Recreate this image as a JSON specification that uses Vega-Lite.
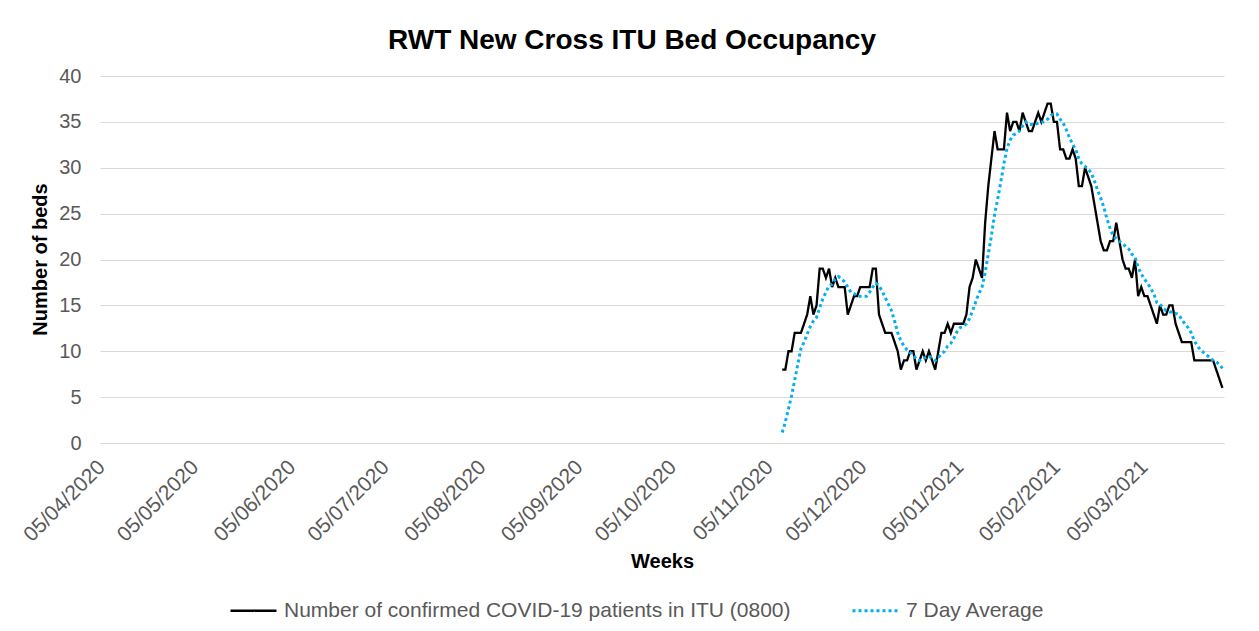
{
  "$schema": "https://vega.github.io/schema/vega-lite/v6.json",
  "autosize": {"type": "none"},
  "padding": {"left": 100, "top": 76, "right": 35, "bottom": 188},
  "width": 1124,
  "height": 367,
  "background": "white",
  "title": {"text": "RWT New Cross ITU Bed Occupancy", "fontSize": 28, "fontWeight": "bold", "font": "Liberation Sans", "color": "#000000", "anchor": "middle", "frame": "group", "dx": -30, "offset": 11},
  "data": {"values": [
    {"d":"2020-11-08","itu":8,"avg":1.14},{"d":"2020-11-09","itu":8,"avg":2.29},{"d":"2020-11-10","itu":10,"avg":3.71},{"d":"2020-11-11","itu":10,"avg":5.14},{"d":"2020-11-12","itu":12,"avg":6.86},{"d":"2020-11-13","itu":12,"avg":8.57},{"d":"2020-11-14","itu":12,"avg":10.29},{"d":"2020-11-15","itu":13,"avg":11.0},{"d":"2020-11-16","itu":14,"avg":11.86},{"d":"2020-11-17","itu":16,"avg":12.71},{"d":"2020-11-18","itu":14,"avg":13.29},{"d":"2020-11-19","itu":15,"avg":13.71},{"d":"2020-11-20","itu":19,"avg":14.71},{"d":"2020-11-21","itu":19,"avg":15.71},{"d":"2020-11-22","itu":18,"avg":16.43},{"d":"2020-11-23","itu":19,"avg":17.14},{"d":"2020-11-24","itu":17,"avg":17.29},{"d":"2020-11-25","itu":18,"avg":17.86},{"d":"2020-11-26","itu":17,"avg":18.14},{"d":"2020-11-27","itu":17,"avg":17.86},{"d":"2020-11-28","itu":17,"avg":17.57},{"d":"2020-11-29","itu":14,"avg":17.0},{"d":"2020-11-30","itu":15,"avg":16.43},
    {"d":"2020-12-01","itu":16,"avg":16.29},{"d":"2020-12-02","itu":16,"avg":16.0},{"d":"2020-12-03","itu":17,"avg":16.0},{"d":"2020-12-04","itu":17,"avg":16.0},{"d":"2020-12-05","itu":17,"avg":16.0},{"d":"2020-12-06","itu":17,"avg":16.43},{"d":"2020-12-07","itu":19,"avg":17.0},{"d":"2020-12-08","itu":19,"avg":17.43},{"d":"2020-12-09","itu":14,"avg":17.14},{"d":"2020-12-10","itu":13,"avg":16.57},{"d":"2020-12-11","itu":12,"avg":15.86},{"d":"2020-12-12","itu":12,"avg":15.14},{"d":"2020-12-13","itu":12,"avg":14.43},{"d":"2020-12-14","itu":11,"avg":13.29},{"d":"2020-12-15","itu":10,"avg":12.0},{"d":"2020-12-16","itu":8,"avg":11.14},{"d":"2020-12-17","itu":9,"avg":10.57},{"d":"2020-12-18","itu":9,"avg":10.14},{"d":"2020-12-19","itu":10,"avg":9.86},{"d":"2020-12-20","itu":10,"avg":9.57},{"d":"2020-12-21","itu":8,"avg":9.14},{"d":"2020-12-22","itu":9,"avg":9.0},{"d":"2020-12-23","itu":10,"avg":9.29},{"d":"2020-12-24","itu":9,"avg":9.29},{"d":"2020-12-25","itu":10,"avg":9.43},{"d":"2020-12-26","itu":9,"avg":9.29},{"d":"2020-12-27","itu":8,"avg":9.0},{"d":"2020-12-28","itu":10,"avg":9.29},{"d":"2020-12-29","itu":12,"avg":9.71},{"d":"2020-12-30","itu":12,"avg":10.0},{"d":"2020-12-31","itu":13,"avg":10.57},
    {"d":"2021-01-01","itu":12,"avg":10.86},{"d":"2021-01-02","itu":13,"avg":11.43},{"d":"2021-01-03","itu":13,"avg":12.14},{"d":"2021-01-04","itu":13,"avg":12.57},{"d":"2021-01-05","itu":13,"avg":12.71},{"d":"2021-01-06","itu":14,"avg":13.0},{"d":"2021-01-07","itu":17,"avg":13.57},{"d":"2021-01-08","itu":18,"avg":14.43},{"d":"2021-01-09","itu":20,"avg":15.43},{"d":"2021-01-10","itu":19,"avg":16.29},{"d":"2021-01-11","itu":18,"avg":17.0},{"d":"2021-01-12","itu":24,"avg":18.57},{"d":"2021-01-13","itu":28,"avg":20.57},{"d":"2021-01-14","itu":31,"avg":22.57},{"d":"2021-01-15","itu":34,"avg":24.86},{"d":"2021-01-16","itu":32,"avg":26.57},{"d":"2021-01-17","itu":32,"avg":28.43},{"d":"2021-01-18","itu":32,"avg":30.43},{"d":"2021-01-19","itu":36,"avg":32.14},{"d":"2021-01-20","itu":34,"avg":33.0},{"d":"2021-01-21","itu":35,"avg":33.57},{"d":"2021-01-22","itu":35,"avg":33.71},{"d":"2021-01-23","itu":34,"avg":34.0},{"d":"2021-01-24","itu":36,"avg":34.57},{"d":"2021-01-25","itu":35,"avg":35.0},{"d":"2021-01-26","itu":34,"avg":34.71},{"d":"2021-01-27","itu":34,"avg":34.71},{"d":"2021-01-28","itu":35,"avg":34.71},{"d":"2021-01-29","itu":36,"avg":34.86},{"d":"2021-01-30","itu":35,"avg":35.0},{"d":"2021-01-31","itu":36,"avg":35.0},
    {"d":"2021-02-01","itu":37,"avg":35.29},{"d":"2021-02-02","itu":37,"avg":35.71},{"d":"2021-02-03","itu":35,"avg":35.86},{"d":"2021-02-04","itu":35,"avg":35.86},{"d":"2021-02-05","itu":32,"avg":35.29},{"d":"2021-02-06","itu":32,"avg":34.86},{"d":"2021-02-07","itu":31,"avg":34.14},{"d":"2021-02-08","itu":31,"avg":33.29},{"d":"2021-02-09","itu":32,"avg":32.57},{"d":"2021-02-10","itu":31,"avg":32.0},{"d":"2021-02-11","itu":28,"avg":31.0},{"d":"2021-02-12","itu":28,"avg":30.43},{"d":"2021-02-13","itu":30,"avg":30.14},{"d":"2021-02-14","itu":29,"avg":29.86},{"d":"2021-02-15","itu":28,"avg":29.43},{"d":"2021-02-16","itu":26,"avg":28.57},{"d":"2021-02-17","itu":24,"avg":27.57},{"d":"2021-02-18","itu":22,"avg":26.71},{"d":"2021-02-19","itu":21,"avg":25.71},{"d":"2021-02-20","itu":21,"avg":24.43},{"d":"2021-02-21","itu":22,"avg":23.43},{"d":"2021-02-22","itu":22,"avg":22.57},{"d":"2021-02-23","itu":24,"avg":22.29},{"d":"2021-02-24","itu":22,"avg":22.0},{"d":"2021-02-25","itu":20,"avg":21.71},{"d":"2021-02-26","itu":19,"avg":21.43},{"d":"2021-02-27","itu":19,"avg":21.14},{"d":"2021-02-28","itu":18,"avg":20.57},
    {"d":"2021-03-01","itu":20,"avg":20.29},{"d":"2021-03-02","itu":16,"avg":19.14},{"d":"2021-03-03","itu":17,"avg":18.43},{"d":"2021-03-04","itu":16,"avg":17.86},{"d":"2021-03-05","itu":16,"avg":17.43},{"d":"2021-03-06","itu":15,"avg":16.86},{"d":"2021-03-07","itu":14,"avg":16.29},{"d":"2021-03-08","itu":13,"avg":15.29},{"d":"2021-03-09","itu":15,"avg":15.14},{"d":"2021-03-10","itu":14,"avg":14.71},{"d":"2021-03-11","itu":14,"avg":14.43},{"d":"2021-03-12","itu":15,"avg":14.29},{"d":"2021-03-13","itu":15,"avg":14.29},{"d":"2021-03-14","itu":13,"avg":14.14},{"d":"2021-03-15","itu":12,"avg":14.0},{"d":"2021-03-16","itu":11,"avg":13.43},{"d":"2021-03-17","itu":11,"avg":13.0},{"d":"2021-03-18","itu":11,"avg":12.57},{"d":"2021-03-19","itu":11,"avg":12.0},{"d":"2021-03-20","itu":9,"avg":11.14},{"d":"2021-03-21","itu":9,"avg":10.57},{"d":"2021-03-22","itu":9,"avg":10.14},{"d":"2021-03-23","itu":9,"avg":9.86},{"d":"2021-03-24","itu":9,"avg":9.57},{"d":"2021-03-25","itu":9,"avg":9.29},{"d":"2021-03-26","itu":9,"avg":9.0},{"d":"2021-03-27","itu":8,"avg":8.86},{"d":"2021-03-28","itu":7,"avg":8.57},{"d":"2021-03-29","itu":6,"avg":8.14}
  ]},
  "transform": [{"fold": ["itu", "avg"], "as": ["series", "value"]}],
  "mark": {"type": "line", "strokeCap": "butt"},
  "encoding": {
    "x": {
      "field": "d", "type": "temporal",
      "scale": {"type": "utc", "domain": [{"year": 2020, "month": 4, "date": 3, "hours": 12, "utc": true}, {"year": 2021, "month": 3, "date": 29, "hours": 12, "utc": true}]},
      "axis": {
        "values": [
          {"year": 2020, "month": 4, "date": 5, "utc": true}, {"year": 2020, "month": 5, "date": 5, "utc": true}, {"year": 2020, "month": 6, "date": 5, "utc": true}, {"year": 2020, "month": 7, "date": 5, "utc": true}, {"year": 2020, "month": 8, "date": 5, "utc": true}, {"year": 2020, "month": 9, "date": 5, "utc": true}, {"year": 2020, "month": 10, "date": 5, "utc": true}, {"year": 2020, "month": 11, "date": 5, "utc": true}, {"year": 2020, "month": 12, "date": 5, "utc": true}, {"year": 2021, "month": 1, "date": 5, "utc": true}, {"year": 2021, "month": 2, "date": 5, "utc": true}, {"year": 2021, "month": 3, "date": 5, "utc": true}
        ],
        "format": "%d/%m/%Y", "labelAngle": -45, "labelAlign": "right", "labelBaseline": "top", "labelFontSize": 21, "labelFont": "Liberation Sans", "labelColor": "#595959",
        "labelOverlap": false, "labelFlush": false, "labelBound": false, "labelPadding": 13, "labelOffset": -11,
        "ticks": false, "grid": false, "domainColor": "#D9D9D9", "domainWidth": 1,
        "title": "Weeks", "titleFontSize": 20, "titleFont": "Liberation Sans", "titleFontWeight": "bold", "titleColor": "#000000",
        "titleY": 118, "titleBaseline": "middle"
      }
    },
    "y": {
      "field": "value", "type": "quantitative",
      "scale": {"domain": [0, 40], "nice": false},
      "axis": {
        "values": [0, 5, 10, 15, 20, 25, 30, 35, 40],
        "labelFontSize": 20, "labelFont": "Liberation Sans", "labelColor": "#595959", "labelPadding": 19,
        "ticks": false, "domain": false, "grid": true, "gridColor": "#D9D9D9", "gridWidth": 1,
        "title": "Number of beds", "titleFontSize": 20, "titleFont": "Liberation Sans", "titleFontWeight": "bold", "titleColor": "#000000",
        "titleX": -60, "titleY": 183, "titleAngle": -90, "titleBaseline": "middle", "titleAlign": "center"
      }
    },
    "strokeWidth": {
      "field": "series", "type": "nominal",
      "scale": {"domain": ["itu", "avg"], "range": [2.3, 3]},
      "legend": null
    },
    "color": {
      "field": "series", "type": "nominal",
      "scale": {"domain": ["itu", "avg"], "range": ["#000000", "#00B0F0"]},
      "legend": {
        "title": null, "orient": "none", "legendX": 129, "legendY": 510, "direction": "horizontal", "padding": 0,
        "symbolType": "stroke", "symbolSize": 2116, "symbolStrokeWidth": 2.5,
        "labelFontSize": 21, "labelFont": "Liberation Sans", "labelColor": "#595959", "labelOffset": 6, "columnPadding": 55, "labelLimit": 900,
        "labelExpr": "datum.value == 'itu' ? 'Number of confirmed COVID-19 patients in ITU (0800)' : '7 Day Average'"
      }
    },
    "strokeDash": {
      "field": "series", "type": "nominal",
      "scale": {"domain": ["itu", "avg"], "range": [[1, 0], [3, 3]]},
      "legend": {
        "title": null, "orient": "none", "legendX": 129, "legendY": 510, "direction": "horizontal", "padding": 0,
        "symbolType": "stroke", "symbolSize": 2116, "symbolStrokeWidth": 2.5,
        "labelFontSize": 21, "labelFont": "Liberation Sans", "labelColor": "#595959", "labelOffset": 6, "columnPadding": 55, "labelLimit": 900,
        "labelExpr": "datum.value == 'itu' ? 'Number of confirmed COVID-19 patients in ITU (0800)' : '7 Day Average'"
      }
    }
  },
  "config": {"view": {"stroke": null}, "font": "Liberation Sans"}
}
